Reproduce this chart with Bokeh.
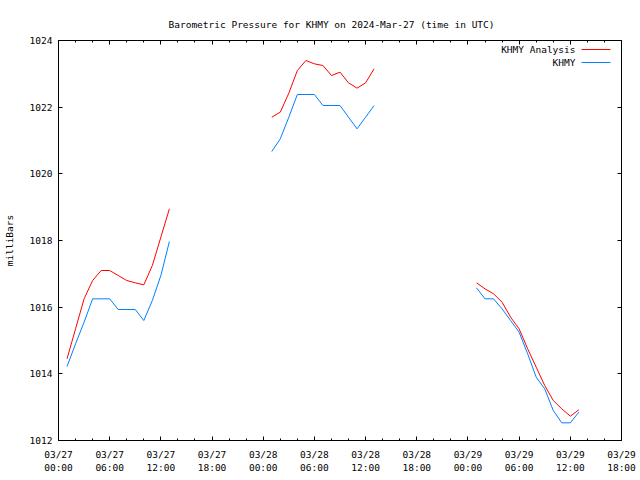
from datetime import datetime, timedelta
from bokeh.plotting import figure
from bokeh.models import (FixedTicker, DatetimeAxis, LinearAxis, Range1d, Label, Arrow)
from bokeh.embed import file_html
from bokeh.resources import INLINE

t0 = datetime(2024, 3, 27, 0, 0)

# hours after 2024-03-27 00:00 UTC
hours_1 = [1, 2, 3, 4, 5, 6, 7, 8, 9, 10, 11, 12, 13]
hours_2 = [25, 26, 27, 28, 29, 30, 31, 32, 33, 34, 35, 36, 37]
hours_3 = [49, 50, 51, 52, 53, 54, 55, 56, 57, 58, 59, 60, 61]

analysis_1 = [1014.45, 1015.35, 1016.25, 1016.8, 1017.1, 1017.1, 1016.95, 1016.8, 1016.73, 1016.67, 1017.25, 1018.1, 1018.95]
analysis_2 = [1021.7, 1021.85, 1022.42, 1023.1, 1023.4, 1023.3, 1023.25, 1022.95, 1023.05, 1022.73, 1022.57, 1022.73, 1023.15]
analysis_3 = [1016.73, 1016.55, 1016.4, 1016.15, 1015.7, 1015.35, 1014.75, 1014.2, 1013.65, 1013.2, 1012.95, 1012.73, 1012.92]

obs_1 = [1014.22, 1014.9, 1015.55, 1016.25, 1016.25, 1016.25, 1015.93, 1015.93, 1015.93, 1015.6, 1016.2, 1016.95, 1017.97]
obs_2 = [1020.67, 1021.05, 1021.7, 1022.38, 1022.38, 1022.38, 1022.05, 1022.05, 1022.05, 1021.7, 1021.35, 1021.7, 1022.05]
obs_3 = [1016.58, 1016.25, 1016.25, 1015.95, 1015.6, 1015.25, 1014.6, 1013.9, 1013.55, 1012.9, 1012.53, 1012.53, 1012.85]

tick_hours = [0, 6, 12, 18, 24, 30, 36, 42, 48, 54, 60, 66]
y_ticks = [1012, 1014, 1016, 1018, 1020, 1022, 1024]

FONT = "DejaVu Sans Mono"
FS = "9.5px"
RED = "#ff0000"
BLUE = "#0080ff"

def to_dt(hs):
    return [t0 + timedelta(hours=h) for h in hs]

def ms(h):
    return (t0 + timedelta(hours=h) - datetime(1970, 1, 1)).total_seconds() * 1000.0

p = figure(width=640, height=480, x_axis_type="datetime", output_backend="svg",
           toolbar_location=None, min_border_left=58, min_border_right=19,
           min_border_top=40, min_border_bottom=40,
           title="Barometric Pressure for KHMY on 2024-Mar-27 (time in UTC)")
p.x_range = Range1d(t0, t0 + timedelta(hours=66))
p.y_range = Range1d(1012, 1024)
p.grid.visible = False
p.outline_line_color = "black"
p.outline_line_width = 1
p.background_fill_color = "white"
p.border_fill_color = "white"

p.title.align = "left"
p.title.text_font = FONT
p.title.text_font_size = FS
p.title.text_font_style = "normal"
p.title.text_color = "black"
p.title.offset = 110
p.title.standoff = 21

for hs, vs in ((hours_1, analysis_1), (hours_2, analysis_2), (hours_3, analysis_3)):
    p.line(to_dt(hs), vs, line_color=RED, line_width=1)
for hs, vs in ((hours_1, obs_1), (hours_2, obs_2), (hours_3, obs_3)):
    p.line(to_dt(hs), vs, line_color=BLUE, line_width=1)

xt = FixedTicker(ticks=[ms(h) for h in tick_hours],
                 minor_ticks=[ms(h) for h in range(0, 67, 2)])
overrides = {ms(h): (t0 + timedelta(hours=h)).strftime("%m/%d\n%H:%M") for h in tick_hours}
yt = FixedTicker(ticks=y_ticks, minor_ticks=[])

def style(ax, labels=True):
    ax.axis_line_color = None
    ax.major_tick_in = 4
    ax.major_tick_out = 0
    ax.minor_tick_in = 2
    ax.minor_tick_out = 0
    ax.major_tick_line_color = "black"
    ax.minor_tick_line_color = "black"
    ax.major_label_text_font = FONT
    ax.major_label_text_font_size = FS
    ax.major_label_text_color = "black"
    ax.axis_label_text_font = FONT
    ax.axis_label_text_font_size = FS
    ax.axis_label_text_font_style = "normal"
    ax.axis_label_text_color = "black"
    if not labels:
        ax.major_label_text_font_size = "0px"
        ax.major_label_text_color = None

xa = p.xaxis[0]
xa.ticker = xt
xa.major_label_overrides = overrides
xa.major_label_standoff = 8
style(xa)

ya = p.yaxis[0]
ya.ticker = yt
ya.axis_label = "milliBars"
ya.major_label_standoff = 6
ya.axis_label_standoff = 12
style(ya)

top = DatetimeAxis(ticker=xt)
style(top, labels=False)
p.add_layout(top, "above")
right = LinearAxis(ticker=yt)
style(right, labels=False)
p.add_layout(right, "right")

# legend (text left, sample line right)
p.add_layout(Label(x=517, y=391, x_units="screen", y_units="screen", text="KHMY Analysis",
                   text_align="right", text_baseline="middle", text_font=FONT, text_font_size=FS,
                   text_color="black"))
p.add_layout(Label(x=517, y=378, x_units="screen", y_units="screen", text="KHMY",
                   text_align="right", text_baseline="middle", text_font=FONT, text_font_size=FS,
                   text_color="black"))
p.add_layout(Arrow(x_start=523, x_end=552, y_start=391, y_end=391, start_units="screen",
                   end_units="screen", start=None, end=None, line_color=RED, line_width=1))
p.add_layout(Arrow(x_start=523, x_end=552, y_start=378, y_end=378, start_units="screen",
                   end_units="screen", start=None, end=None, line_color=BLUE, line_width=1))

open("out.html", "w").write(file_html(p, INLINE))
